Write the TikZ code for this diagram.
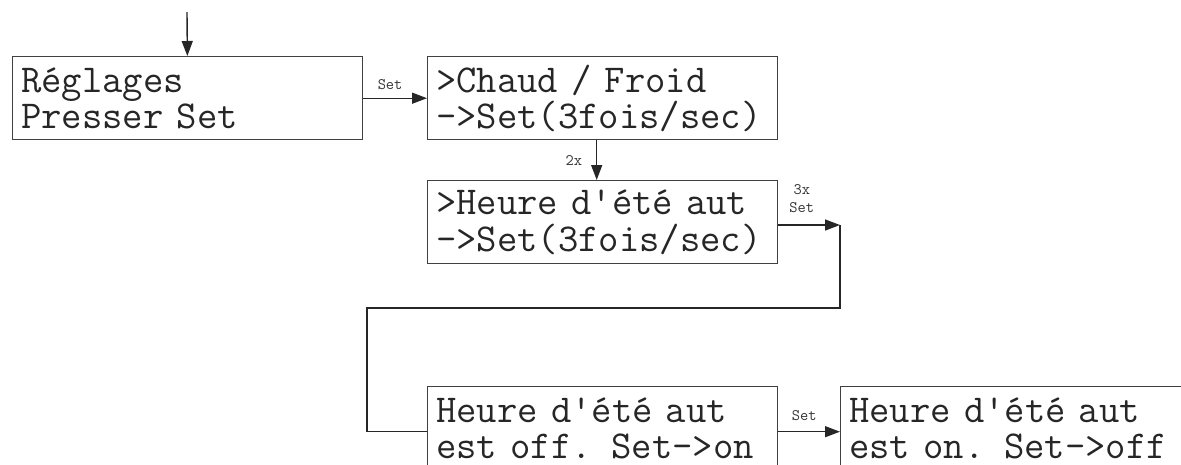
\documentclass[tikz,border=0pt]{standalone}
\usepackage{fontspec}
\setmonofont{Latin Modern Mono}[WordSpace={1,0,0}]
\usetikzlibrary{arrows.meta}
\tikzset{x=1pt, y=-1pt,
  screen box/.style={draw=black!75, line width=1.4pt, rectangle,
      minimum width=350pt, minimum height=83pt, text width=333pt,
      inner sep=0pt, align=left, anchor=north west, text=black!85,
      font=\ttfamily\fontsize{39.5}{36.5}\selectfont},
  key label/.style={font=\ttfamily\fontsize{16}{18}\selectfont,
      text=black!80, inner sep=2pt, align=center},
  flow arrow/.style={draw=black!85, line width=1.4pt,
      -{Triangle[length=15pt,width=11pt]}},
  flow line/.style={draw=black!85, line width=1.4pt}
}

\begin{document}
\begin{tikzpicture}
\useasboundingbox (0,0) rectangle (1181,464);
\clip (0,0) rectangle (1181,464);
% screens
\node[screen box] (reglages) at (12,56)  {Réglages\\Presser Set};
\node[screen box] (chaud)    at (427,56) {>Chaud / Froid\\->Set(3fois/sec)};
\node[screen box] (heure)    at (427,180) {>Heure d'été aut\\->Set(3fois/sec)};
\node[screen box] (horsoff)  at (427,386) {Heure d'été aut\\est off. Set->on};
\node[screen box] (horson)   at (840,386) {Heure d'été aut\\est on. Set->off};
\coordinate (entry) at (187,12);
\coordinate (turn) at (840,225);
\coordinate (back) at (367,308);
% transitions
\draw[flow arrow] (entry) -- (reglages);
\draw[flow arrow] (reglages) -- node[above, key label, pos=0.42, yshift=6pt] (setA) {Set} (chaud);
\draw[flow arrow] ([xshift=-6pt]chaud.south) -- node[left, key label, xshift=-12pt] (twice) {2x} ([xshift=-6pt]heure.north);
\draw[flow arrow] (heure.east |- turn) -- node[above, key label, pos=0.38, yshift=10pt] (thrice) {3x\\Set} (turn);
\draw[flow line] (turn) |- (back) |- ([yshift=-3.5pt]horsoff.west);
\draw[flow arrow] ([yshift=-3.5pt]horsoff.east) -- node[above, key label, pos=0.42, yshift=8pt] (setB) {Set} ([yshift=-3.5pt]horson.west);
\end{tikzpicture}
\end{document}
